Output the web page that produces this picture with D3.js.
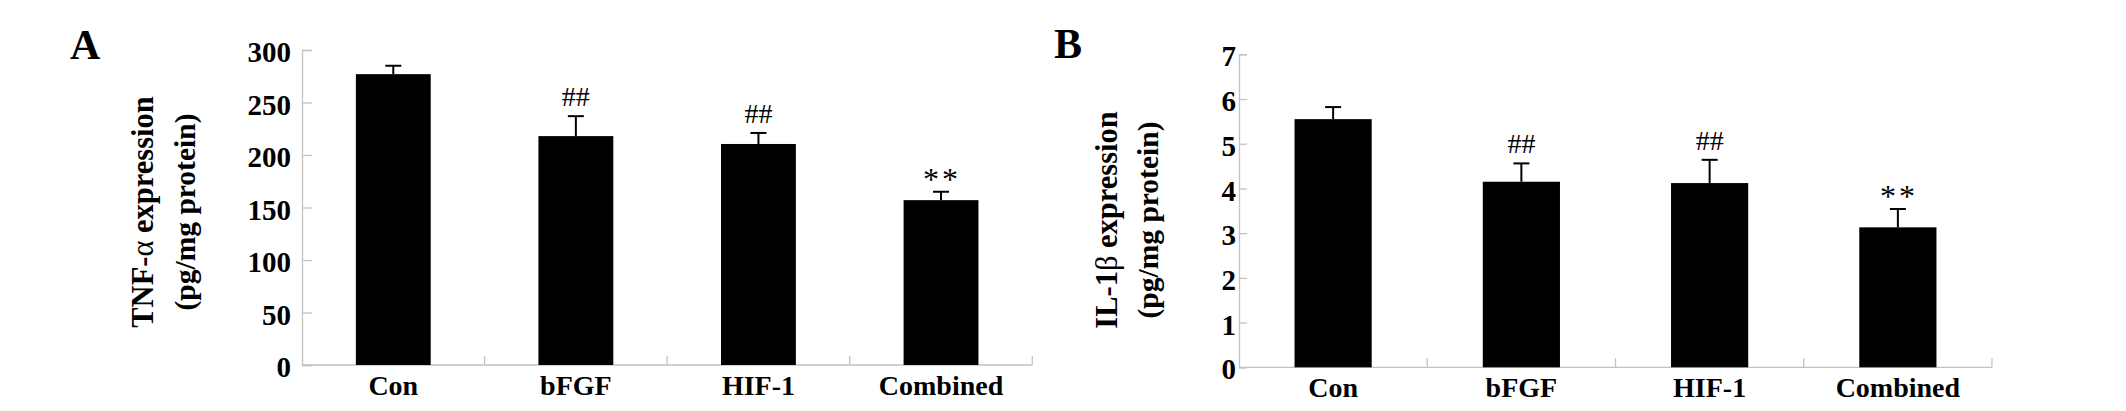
<!DOCTYPE html>
<html>
<head>
<meta charset="utf-8">
<script src="https://cdn.jsdelivr.net/npm/d3@7"></script>
<style>
  html, body { margin: 0; padding: 0; background: #fff; }
  svg { display: block; }
  text { font-family: "Liberation Serif", "Times New Roman", serif; }
</style>
</head>
<body>
<svg id="chart" width="2126" height="411"></svg>
<script>
// ---------- data ----------
const categories = ["Con", "bFGF", "HIF-1", "Combined"];
const significance = ["", "##", "##", "**"];

const tnfValues = [277, 218, 210.5, 157];
const tnfErrors = [8, 19, 10.5, 8];
const tnfTicks = [0, 50, 100, 150, 200, 250, 300];

const il1bValues = [5.55, 4.15, 4.12, 3.13];
const il1bErrors = [0.27, 0.41, 0.52, 0.41];
const il1bTicks = [0, 1, 2, 3, 4, 5, 6, 7];

// ---------- drawing ----------
const svg = d3.select("#chart");
svg.append("rect").attr("width", 2126).attr("height", 411).attr("fill", "#fff");

const AXIS_COLOR = "#c3c3c3";
const FONT = '"Liberation Serif", "Times New Roman", serif';

function panel(opts) {
  const g = svg.append("g");
  const x = d3.scaleBand().domain(categories).range([opts.x0, opts.x1]).paddingInner(0).paddingOuter(0);
  const y = d3.scaleLinear().domain([0, opts.yMax]).range([opts.y0, opts.y1]);
  const barW = x.bandwidth() * 0.41;

  // panel letter
  g.append("text").attr("x", opts.letterX).attr("y", opts.letterY)
    .attr("font-size", 42).attr("font-weight", "bold").text(opts.letter);

  // y axis
  const yAxis = d3.axisLeft(y).tickValues(opts.ticks).tickSize(-opts.tickLen)
    .tickPadding(opts.tickPad).tickFormat(d3.format("d"));
  const ya = g.append("g").attr("transform", `translate(${opts.x0},0)`).call(yAxis);
  ya.select(".domain").attr("stroke", AXIS_COLOR).attr("stroke-width", 1.3);
  ya.selectAll(".tick line").attr("stroke", AXIS_COLOR).attr("stroke-width", 1.3);
  ya.selectAll(".tick text").attr("font-size", 29).attr("font-weight", "bold")
    .attr("fill", "#000").attr("dy", "0.4em").style("font-family", FONT);

  // x axis line and boundary ticks
  g.append("line").attr("x1", opts.x0).attr("x2", opts.x1)
    .attr("y1", y(0)).attr("y2", y(0)).attr("stroke", AXIS_COLOR).attr("stroke-width", 1.3);
  categories.forEach(c => {
    const bx = x(c) + x.bandwidth();
    g.append("line").attr("x1", bx).attr("x2", bx).attr("y1", y(0)).attr("y2", y(0) - 9)
      .attr("stroke", AXIS_COLOR).attr("stroke-width", 1.3);
  });

  // x labels
  const xAxis = d3.axisBottom(x).tickSize(0).tickPadding(10);
  const xa = g.append("g").attr("transform", `translate(0,${y(0)})`).call(xAxis);
  xa.select(".domain").remove();
  xa.selectAll(".tick text").attr("font-size", 28).attr("font-weight", "bold").attr("fill", "#000")
    .style("font-family", FONT);

  // bars
  const cx = c => x(c) + x.bandwidth() / 2;
  g.selectAll("rect.bar").data(categories).enter().append("rect").attr("class", "bar")
    .attr("x", c => cx(c) - barW / 2).attr("width", barW)
    .attr("y", (c, i) => y(opts.values[i]))
    .attr("height", (c, i) => y(0) - y(opts.values[i]))
    .attr("fill", "#000");

  // error bars (upper only)
  categories.forEach((c, i) => {
    const top = y(opts.values[i] + opts.errors[i]);
    g.append("line").attr("x1", cx(c)).attr("x2", cx(c))
      .attr("y1", y(opts.values[i])).attr("y2", top).attr("stroke", "#000").attr("stroke-width", 2);
    g.append("line").attr("x1", cx(c) - 8).attr("x2", cx(c) + 8)
      .attr("y1", top).attr("y2", top).attr("stroke", "#000").attr("stroke-width", 2);
    const s = significance[i];
    if (s) {
      const isStar = s.indexOf("*") >= 0;
      g.append("text").attr("x", cx(c) + (isStar ? 1 : 0)).attr("y", top - (isStar ? 2 : 10))
        .attr("text-anchor", "middle").attr("font-size", isStar ? 32 : 28)
        .attr("letter-spacing", isStar ? 3 : 0)
        .text(s);
    }
  });

  // y title (two lines, rotated)
  const t1 = g.append("text").attr("transform", `translate(${opts.lab1X},${opts.labY}) rotate(-90)`)
    .attr("text-anchor", "middle").attr("font-size", 30.5).attr("font-weight", "bold");
  t1.append("tspan").text(opts.titlePre);
  t1.append("tspan").attr("font-weight", "normal").text(opts.titleGreek);
  t1.append("tspan").text(" expression");
  g.append("text").attr("transform", `translate(${opts.lab2X},${opts.labY}) rotate(-90)`)
    .attr("text-anchor", "middle").attr("font-size", 29.5).attr("font-weight", "bold")
    .text("(pg/mg protein)");
}

panel({
  letter: "A", letterX: 70, letterY: 59,
  x0: 302, x1: 1032.3, y0: 365, y1: 50, yMax: 300,
  ticks: tnfTicks, tickLen: 10, tickPad: 11,
  values: tnfValues, errors: tnfErrors,
  titlePre: "TNF-", titleGreek: "α",
  lab1X: 153, lab2X: 195, labY: 212
});

panel({
  letter: "B", letterX: 1054, letterY: 58,
  x0: 1239, x1: 1992, y0: 367.3, y1: 54.3, yMax: 7,
  ticks: il1bTicks, tickLen: 8, tickPad: 3,
  values: il1bValues, errors: il1bErrors,
  titlePre: "IL-1", titleGreek: "β",
  lab1X: 1117, lab2X: 1158, labY: 220
});
</script>
</body>
</html>
